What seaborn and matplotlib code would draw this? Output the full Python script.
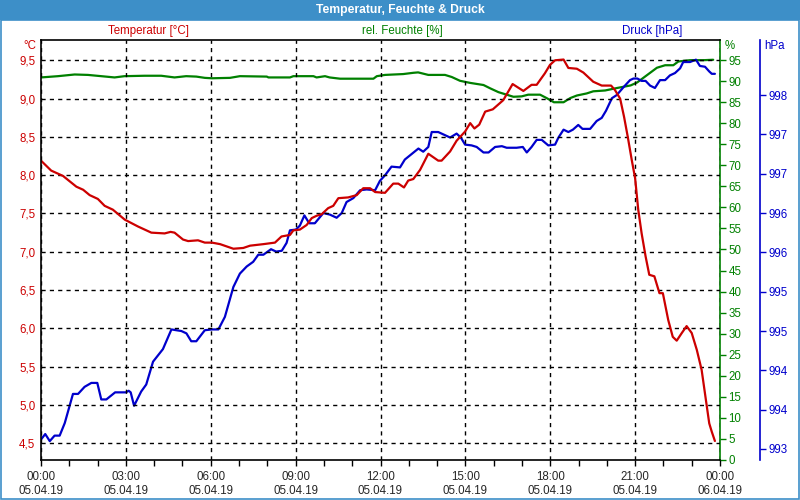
import numpy as np
import matplotlib
matplotlib.use('Agg')
import matplotlib.pyplot as plt
from matplotlib.patches import Rectangle
from matplotlib.ticker import FuncFormatter, MultipleLocator, FixedLocator
import seaborn as sns

### data (hours since 05.04.19 00:00)
temp_t = [0, 0.36, 0.78, 1.25, 1.49, 1.72, 2.01, 2.25, 2.54, 2.96, 3.43, 3.90, 4.37, 4.58, 4.72,
          5.02, 5.20, 5.55, 5.79, 6.04, 6.33, 6.80, 7.15, 7.39, 7.86, 8.27, 8.50, 8.80, 8.92, 9.15,
          9.39, 9.57, 9.74, 9.92, 10.15, 10.33, 10.51, 10.86, 11.16, 11.39, 11.63, 11.81, 12.16,
          12.45, 12.63, 12.83, 12.98, 13.16, 13.40, 13.69, 14.04, 14.16, 14.46, 14.69, 14.99, 15.17,
          15.32, 15.49, 15.70, 15.97, 16.34, 16.67, 17.05, 17.34, 17.52, 17.81, 17.99, 18.17, 18.47,
          18.64, 18.94, 19.17, 19.52, 19.82, 20.15, 20.29, 20.47, 20.61, 20.74, 20.88, 21.00, 21.11,
          21.23, 21.37, 21.50, 21.68, 21.86, 21.98, 22.17, 22.33, 22.47, 22.65, 22.82, 23.00, 23.18,
          23.35, 23.50, 23.62, 23.71, 23.82]
temp_v = [8.19, 8.06, 7.99, 7.85, 7.81, 7.74, 7.69, 7.60, 7.55, 7.42, 7.33, 7.25, 7.24, 7.26, 7.25,
          7.16, 7.14, 7.15, 7.12, 7.12, 7.10, 7.04, 7.05, 7.08, 7.10, 7.12, 7.20, 7.22, 7.28, 7.29,
          7.35, 7.44, 7.47, 7.49, 7.57, 7.60, 7.70, 7.71, 7.74, 7.83, 7.83, 7.78, 7.77,
          7.89, 7.89, 7.84, 7.93, 7.95, 8.07, 8.28, 8.19, 8.19, 8.31, 8.45, 8.57, 8.68,
          8.61, 8.66, 8.83, 8.86, 8.98, 9.19, 9.10, 9.18, 9.18, 9.33, 9.44, 9.50, 9.51,
          9.40, 9.39, 9.34, 9.22, 9.17, 9.17, 9.11, 9.00, 8.76, 8.50, 8.20, 7.96, 7.55,
          7.24, 6.94, 6.70, 6.68, 6.46, 6.46, 6.11, 5.89, 5.84, 5.94, 6.03, 5.94, 5.72,
          5.46, 5.07, 4.76, 4.65, 4.53]

hum_t = [0, 0.6, 1.19, 1.66, 2.13, 2.6, 2.95, 3.66, 4.25, 4.72, 5.13, 5.49, 5.79, 6.04, 6.68, 7.03,
         7.98, 8.04, 8.8, 8.92, 9.63, 9.74, 10.04, 10.2, 10.57, 11.75, 11.87, 12.16, 12.8, 13.16,
         13.33, 13.69, 14.28, 14.52, 14.81, 15.17, 15.64, 15.88, 16.17, 16.46, 16.7, 16.99, 17.22,
         17.64, 17.87, 18.13, 18.47, 18.71, 18.94, 19.29, 19.52, 19.94, 20.37, 20.84, 21.07, 21.37,
         21.77, 22.06, 22.35, 22.53, 22.94, 23.41, 23.76]
hum_v = [90.9, 91.2, 91.6, 91.5, 91.2, 90.9, 91.2, 91.3, 91.3, 90.9, 91.2, 91.1, 90.8, 90.7, 90.8, 91.2,
         91.1, 90.9, 90.9, 91.2, 91.2, 90.9, 91.2, 90.9, 90.6, 90.6, 91.2, 91.5, 91.7, 92.0,
         92.1, 91.5, 91.5, 91.0, 90.1, 89.6, 89.1, 88.3, 87.4, 86.8, 86.3, 86.4, 86.8,
         86.8, 86.0, 85.0, 85.0, 86.0, 86.6, 87.1, 87.6, 87.8, 88.4, 89.0, 89.7, 91.2,
         93.2, 93.8, 93.8, 94.7, 95.0, 95.0, 95.1]

pres_t = [0, 0.15, 0.31, 0.48, 0.66, 0.84, 1.13, 1.31, 1.54, 1.78, 1.99, 2.13, 2.31, 2.62, 3.0, 3.1,
          3.17, 3.29, 3.54, 3.72, 3.96, 4.31, 4.61, 4.96, 5.14, 5.31, 5.49, 5.79, 6.04, 6.27, 6.5,
          6.8, 7.03, 7.27, 7.5, 7.68, 7.86, 8.13, 8.31, 8.51, 8.68, 8.8, 9.01, 9.15, 9.31, 9.48,
          9.68, 9.98, 10.21, 10.45, 10.63, 10.8, 11.04, 11.28, 11.51, 11.81, 11.98, 12.16, 12.39,
          12.69, 12.86, 13.1, 13.34, 13.51, 13.69, 13.81, 14.04, 14.28, 14.46, 14.69, 14.84, 14.99,
          15.22, 15.4, 15.64, 15.82, 16.05, 16.29, 16.46, 16.81, 17.03, 17.17, 17.34, 17.52, 17.7,
          17.93, 18.17, 18.29, 18.47, 18.64, 18.8, 18.99, 19.14, 19.41, 19.64, 19.82, 19.97, 20.18,
          20.35, 20.59, 20.82, 20.94, 21.08, 21.23, 21.37, 21.53, 21.7, 21.88, 22.06, 22.23, 22.41,
          22.59, 22.7, 22.94, 23.15, 23.29, 23.47, 23.62, 23.71, 23.82]
pres_v = [993.32, 993.39, 993.30, 993.37, 993.37, 993.53, 993.90, 993.90, 993.99, 994.04, 994.04,
          993.83, 993.83, 993.92, 993.92, 993.94, 993.92, 993.75, 993.93, 994.02, 994.31, 994.47,
          994.72, 994.70, 994.67, 994.57, 994.57, 994.71, 994.72, 994.72, 994.88, 995.26, 995.43,
          995.52, 995.58, 995.67, 995.67, 995.74, 995.71, 995.72, 995.82, 995.98, 995.99, 996.04,
          996.17, 996.07, 996.07, 996.20, 996.18, 996.14, 996.20, 996.34, 996.39, 996.49, 996.50,
          996.49, 996.61, 996.68, 996.79, 996.78, 996.88, 996.95, 997.02, 996.98, 997.04, 997.23,
          997.23, 997.19, 997.16, 997.21, 997.16, 997.07, 997.06, 997.04, 996.97, 996.97, 997.04,
          997.05, 997.03, 997.03, 997.04, 996.97, 997.04, 997.13, 997.13, 997.06, 997.07, 997.16,
          997.26, 997.23, 997.26, 997.32, 997.27, 997.27, 997.37, 997.41, 997.50, 997.66, 997.70,
          997.80, 997.89, 997.91, 997.91, 997.88, 997.88, 997.82, 997.79, 997.89, 997.89, 997.95,
          997.98, 998.04, 998.12, 998.12, 998.15, 998.07, 998.06, 998.00, 997.97, 997.97]

temp_ticks = [4.5, 5.0, 5.5, 6.0, 6.5, 7.0, 7.5, 8.0, 8.5, 9.0, 9.5]
hum_ticks = list(range(0, 100, 5))
pres_ticks = [993.2, 993.7, 994.2, 994.7, 995.2, 995.7, 996.2, 996.7, 997.2, 997.7]
hour_ticks = [0, 3, 6, 9, 12, 15, 18, 21, 24]
hour_labels = ['00:00\n05.04.19', '03:00\n05.04.19', '06:00\n05.04.19', '09:00\n05.04.19',
               '12:00\n05.04.19', '15:00\n05.04.19', '18:00\n05.04.19', '21:00\n05.04.19',
               '00:00\n06.04.19']

RED = '#cc0000'
GREEN = '#008000'
BLUE = '#0000cc'
FRAME = '#3d8fc8'

sns.set_style('white')
plt.rcParams['font.family'] = ['Liberation Sans', 'DejaVu Sans']
FS = 8.3

fig = plt.figure(figsize=(8, 5), dpi=100)
fig.patch.set_facecolor('white')
W, H = 800.0, 500.0

### title bar and frame
fig.patches.append(Rectangle((0, 1 - 20 / H), 1, 20 / H, transform=fig.transFigure,
                             facecolor=FRAME, edgecolor='none', zorder=0))
fig.patches.append(Rectangle((0.6 / W, 0.6 / H), 1 - 1.2 / W, 1 - 20 / H - 0.6 / H,
                             transform=fig.transFigure, facecolor='none', edgecolor=FRAME,
                             lw=1.2, zorder=0))
fig.text(0.5, 1 - 10 / H, 'Temperatur, Feuchte & Druck', color='white', weight='bold',
         ha='center', va='center', fontsize=FS + 0.4)

ax = fig.add_axes([41 / W, 40 / H, 679 / W, 420 / H])
ax_h = ax.twinx()
ax_p = ax.twinx()
ax_p.spines['right'].set_position(('axes', (760 - 41) / 679.0))

### lines
sns.lineplot(x=hum_t, y=hum_v, ax=ax_h, color=GREEN, lw=1.6)
sns.lineplot(x=pres_t, y=pres_v, ax=ax_p, color=BLUE, lw=1.6)
sns.lineplot(x=temp_t, y=temp_v, ax=ax, color=RED, lw=1.6)
ax.set_zorder(3)
ax.patch.set_visible(False)

### temperature axis
ax.set_xlim(0, 24)
ax.set_ylim(4.282, 9.765)
ax.yaxis.set_major_locator(FixedLocator(temp_ticks))
ax.yaxis.set_major_formatter(FuncFormatter(lambda v, p: f'{v:.1f}'.replace('.', ',')))
ax.tick_params(axis='y', length=0, pad=4, labelcolor=RED, labelsize=FS)
ax.xaxis.set_major_locator(FixedLocator(hour_ticks))
ax.set_xticklabels(hour_labels)
ax.xaxis.set_minor_locator(MultipleLocator(1))
ax.tick_params(axis='x', which='both', direction='out', length=4, width=1, color='black',
               bottom=True, labelsize=FS, pad=4)
ax.grid(True, which='major', color='black', ls=(0, (3, 3)), lw=1)
for s in ['left', 'top', 'bottom']:
    ax.spines[s].set_visible(True)
    ax.spines[s].set_color('black')
    ax.spines[s].set_linewidth(1.2)
    ax.spines[s].set_zorder(5)
ax.spines['right'].set_visible(False)
ax.set_xlabel('')
ax.set_ylabel('')

### humidity axis
ax_h.set_ylim(-0.05, 99.8)
ax_h.yaxis.set_major_locator(FixedLocator(hum_ticks))
ax_h.tick_params(axis='y', direction='out', length=4, width=1, color=GREEN, labelcolor=GREEN,
                 labelsize=FS, pad=2)
ax_h.spines['right'].set_color(GREEN)
ax_h.spines['right'].set_linewidth(1.2)
for s in ['left', 'top', 'bottom']:
    ax_h.spines[s].set_visible(False)
ax_h.set_ylabel('')

### pressure axis
ax_p.set_ylim(993.06, 998.40)
ax_p.yaxis.set_major_locator(FixedLocator(pres_ticks))
ax_p.yaxis.set_major_formatter(FuncFormatter(lambda v, p: f'{v:.0f}'))
ax_p.tick_params(axis='y', direction='out', length=4, width=1, color=BLUE, labelcolor=BLUE,
                 labelsize=FS, pad=2)
ax_p.spines['right'].set_color(BLUE)
ax_p.spines['right'].set_linewidth(1.2)
for s in ['left', 'top', 'bottom']:
    ax_p.spines[s].set_visible(False)
ax_p.set_ylabel('')

### unit labels and header
fig.text(36 / W, 1 - 46 / H, '°C', color=RED, ha='right', va='center', fontsize=FS)
fig.text(725 / W, 1 - 46 / H, '%', color=GREEN, ha='left', va='center', fontsize=FS)
fig.text(764 / W, 1 - 46 / H, 'hPa', color=BLUE, ha='left', va='center', fontsize=FS)
fig.text(148 / W, 1 - 31 / H, 'Temperatur [°C]', color=RED, ha='center', va='center', fontsize=FS)
fig.text(402 / W, 1 - 31 / H, 'rel. Feuchte [%]', color=GREEN, ha='center', va='center', fontsize=FS)
fig.text(652 / W, 1 - 31 / H, 'Druck [hPa]', color=BLUE, ha='center', va='center', fontsize=FS)

fig.savefig('out.png', dpi=100, facecolor='white')
